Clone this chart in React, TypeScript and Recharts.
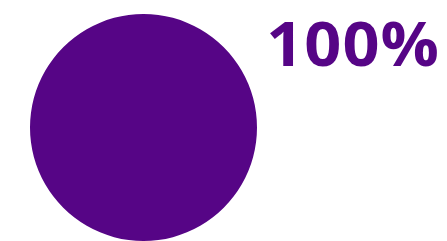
import React from "react";
import { PieChart, Pie, Cell, Customized } from "recharts";

const categories = ["Complete"];
const values = [100];
const labelText = "100%";
const colors = ["#560586"];

const data = categories.map((name, i) => ({ name, value: values[i] }));

const BigLabel = () => (
  <text
    x={440}
    y={66}
    textAnchor="end"
    fill="#560586"
    transform="translate(440 66) scale(1.08 1) translate(-440 -66)"
    style={{ fontFamily: "'Open Sans', sans-serif", fontWeight: 700, fontSize: 60, letterSpacing: 1 }}
  >
    {labelText}
  </text>
);

export default function App() {
  return (
    <div style={{ position: "absolute", left: 0, top: 0, width: 447, height: 241 }}>
      <PieChart width={447} height={241} margin={{ top: 0, right: 0, bottom: 0, left: 0 }}>
        <Pie
          data={data}
          dataKey="value"
          cx={143.5}
          cy={127.5}
          outerRadius={113.5}
          innerRadius={0}
          startAngle={90}
          endAngle={-270}
          stroke="none"
          isAnimationActive={false}
        >
          {data.map((d, i) => (
            <Cell key={d.name} fill={colors[i]} />
          ))}
        </Pie>
        <Customized component={BigLabel} />
      </PieChart>
    </div>
  );
}
